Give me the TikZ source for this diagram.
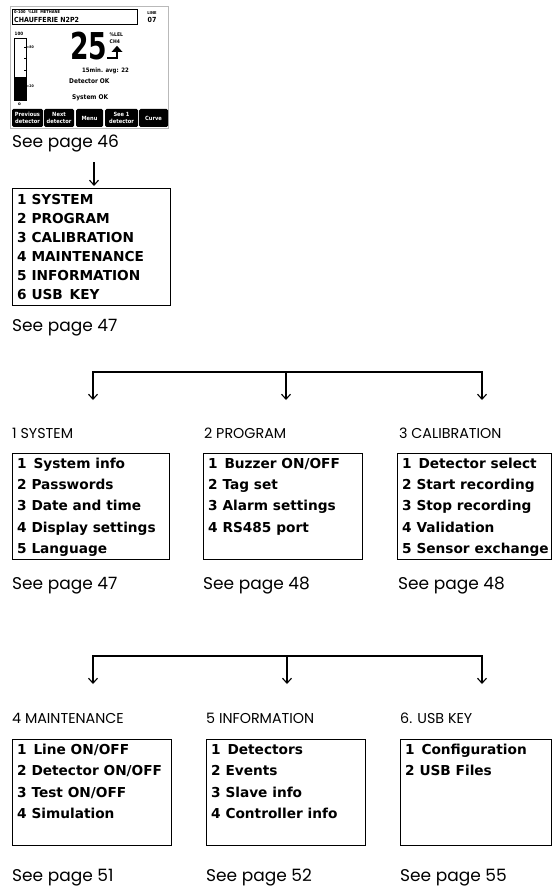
\documentclass[tikz,border=0pt]{standalone}
\usepackage{fontspec}
\setmainfont{Poppins}
\newfontfamily\lcd{DejaVu Sans Condensed}
\newfontfamily\lcdw{DejaVu Sans}
\newfontfamily\bignum{DejaVu Sans Condensed}[FakeStretch=0.8]
\usetikzlibrary{arrows.meta}
\begin{document}
\begin{tikzpicture}[x=1pt,y=-1pt,
  conn/.style={line width=1.1pt,line cap=rect},
  arr/.style={line width=1.1pt,-{Straight Barb[length=5pt,width=9pt,line width=1.1pt]}},
  seepage/.style={anchor=base west,inner sep=0,font=\fontsize{17}{17}\selectfont},
  head/.style={anchor=base west,inner sep=0,font=\fontsize{14.3}{14.3}\selectfont},
  item/.style={anchor=base west,inner sep=0,font=\lcdw\bfseries\fontsize{13.7}{13.7}\selectfont},
  menubox/.style={draw,line width=1pt,anchor=north west,inner sep=0,minimum height=106pt},
  scr/.style={inner sep=0,font=\lcd\bfseries\fontsize{#1}{#1}\selectfont},
  btn/.style={fill=black,text=white,inner sep=0,minimum height=18pt,align=center,
    rounded corners=1.5pt,font=\lcd\bfseries\fontsize{5.7}{6.5}\selectfont}]
\useasboundingbox (0,0) rectangle (551,888);
% ---------- screen ----------
\draw[gray!55,line width=0.6pt] (10,6) rectangle (168,128);
\node[draw,line width=0.5pt,anchor=north west,inner sep=0,minimum width=125pt,minimum height=15pt] (hdr) at (12,9) {};
\node[scr=4,anchor=base west] (hdr1) at (14,14) {0-100 \ \%LIE \ METHANE};
\node[scr=7,anchor=base west] (hdr2) at (14,22.5) {CHAUFFERIE N2P2};
\node[scr=4,anchor=base] (lineL) at (152,15) {LINE};
\node[scr=7,anchor=base] (lineN) at (152,23) {07};
\node[scr=4.5,anchor=base west] (top100) at (14.5,35.5) {100};
\node[draw,line width=0.8pt,anchor=north west,inner sep=0,minimum width=12pt,minimum height=62pt] (bar) at (13.5,38) {};
\fill (13.5,77) rectangle (25.5,100);
\draw[line width=0.4pt] (24,47) -- (26,47) (24,58) -- (26,58) (24,70) -- (26,70) (24,86) -- (26,86);
\node[scr=3.5,anchor=west] (t80) at (26.5,47) {=80};
\node[scr=3.5,anchor=west] (t20) at (26.5,86) {=20};
\node[scr=4.5,anchor=center] (zero) at (19.5,104) {o};
\node[inner sep=0,anchor=base west,font=\bignum\bfseries\fontsize{37}{37}\selectfont] (val) at (70,60) {25};
\node[inner sep=0,anchor=north west,align=left,font=\lcd\bfseries\fontsize{5}{7.2}\selectfont] (unit) at (109.5,32.6) {\%LEL\\CH4};
\draw[line width=2pt] (107,58.5) -- (117,58.5) -- (117,51.5);
\fill (111.5,52) -- (117,45.8) -- (122.5,52) -- cycle;
\node[scr=6,anchor=base west] (avg) at (82,72.5) {15min. avg: 22};
\node[scr=6.5,anchor=base west] (detok) at (69,83.5) {Detector OK};
\node[scr=6.5,anchor=base west] (sysok) at (72,99.5) {System OK};
\node[btn,minimum width=31pt] (b1) at (27.5,118) {Previous\\detector};
\node[btn,minimum width=30pt] (b2) at (59,118) {Next\\detector};
\node[btn,minimum width=27pt] (b3) at (89.5,118) {Menu};
\node[btn,minimum width=33pt] (b4) at (121.5,118) {See 1\\detector};
\node[btn,minimum width=29pt] (b5) at (153.5,118) {Curve};
% ---------- main menu ----------
\node[seepage] (sp46) at (12,147) {See page 46};
\node[menubox,minimum width=158pt,minimum height=117pt] (menu) at (12,188) {};
\coordinate (a0s) at (94,162);
\coordinate (a0e) at (94,186);
\draw[arr] (a0s) -- (a0e);
\foreach \t [count=\i] in {1 SYSTEM,2 PROGRAM,3 CALIBRATION,4 MAINTENANCE,5 INFORMATION,6 USB\hspace{2pt} KEY}
  \node[item] (m\i) at (17,{204+19*(\i-1)}) {\t};
\node[seepage] (sp47a) at (12,331) {See page 47};
% ---------- tree 1 ----------
\coordinate (j1a) at (93,372); \coordinate (j1b) at (286,372); \coordinate (j1c) at (482,372);
\coordinate (k1a) at (93,400); \coordinate (k1b) at (286,400); \coordinate (k1c) at (482,400);
\draw[conn] (j1a) -- (j1c);
\draw[arr] (j1a) -- (k1a);
\draw[arr] (j1b) -- (k1b);
\draw[arr] (j1c) -- (k1c);
\node[head] (h1) at (12,438) {1 SYSTEM};
\node[head] (h2) at (204,438) {2 PROGRAM};
\node[head] (h3) at (399,438) {3 CALIBRATION};
\node[menubox,minimum width=157pt] (bx1) at (12,453) {};
\node[menubox,minimum width=159pt] (bx2) at (203,453) {};
\node[menubox,minimum width=153.5pt] (bx3) at (397,453) {};
\foreach \t [count=\i] in {1\hspace{2pt} System info,2 Passwords,3 Date and time,4 Display settings,5 Language}
  \node[item] (s\i) at (17,{468.3+21.3*(\i-1)}) {\t};
\foreach \t [count=\i] in {1\hspace{2pt} Buzzer ON/OFF,2 Tag set,3 Alarm settings,4 RS485 port}
  \node[item] (p\i) at (208,{468.3+21.3*(\i-1)}) {\t};
\foreach \t [count=\i] in {1\hspace{2pt} Detector select,2 Start recording,3 Stop recording,4 Validation,5 Sensor exchange}
  \node[item] (c\i) at (402,{468.3+21.3*(\i-1)}) {\t};
\node[seepage] (sp47b) at (12,589) {See page 47};
\node[seepage] (sp48a) at (203,589) {See page 48};
\node[seepage] (sp48b) at (398,589) {See page 48};
% ---------- tree 2 ----------
\coordinate (j2a) at (93,656); \coordinate (j2b) at (287,656); \coordinate (j2c) at (482,656);
\coordinate (k2a) at (93,684); \coordinate (k2b) at (287,684); \coordinate (k2c) at (482,684);
\draw[conn] (j2a) -- (j2c);
\draw[arr] (j2a) -- (k2a);
\draw[arr] (j2b) -- (k2b);
\draw[arr] (j2c) -- (k2c);
\node[head] (h4) at (12,723) {4 MAINTENANCE};
\node[head] (h5) at (206,723) {5 INFORMATION};
\node[head] (h6) at (400,723) {6. USB KEY};
\node[menubox,minimum width=159pt] (bx4) at (12,739) {};
\node[menubox,minimum width=159pt] (bx5) at (206,739) {};
\node[menubox,minimum width=150.5pt] (bx6) at (400,739) {};
\foreach \t [count=\i] in {1\hspace{2pt} Line ON/OFF,2 Detector ON/OFF,3 Test ON/OFF,4 Simulation}
  \node[item] (n\i) at (17,{754.3+21.5*(\i-1)}) {\t};
\foreach \t [count=\i] in {1\hspace{2pt} Detectors,2 Events,3 Slave info,4 Controller info}
  \node[item] (f\i) at (211,{754.3+21.5*(\i-1)}) {\t};
\foreach \t [count=\i] in {1\hspace{2pt} Configuration,2 USB Files}
  \node[item] (u\i) at (405,{754.3+21.5*(\i-1)}) {\t};
\node[seepage] (sp51) at (12,881) {See page 51};
\node[seepage] (sp52) at (206,881) {See page 52};
\node[seepage] (sp55) at (400,881) {See page 55};
\end{tikzpicture}
\end{document}
